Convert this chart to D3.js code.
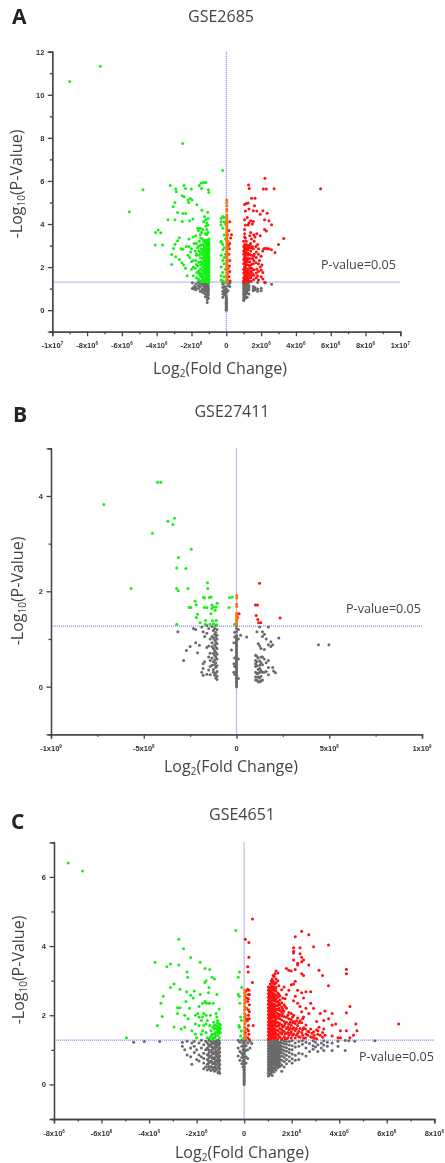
<!DOCTYPE html>
<html>
<head>
<meta charset="utf-8">
<script src="https://d3js.org/d3.v7.min.js"></script>
<style>
  html, body { margin: 0; padding: 0; background: #fff; }
  svg { display: block; filter: blur(0.4px); }
  .tick-label { font-family: "Liberation Sans", Arial, sans-serif; font-weight: bold; font-size: 7.5px; fill: #333; }
  .big { font-family: "Open Sans", sans-serif; fill: #444; }
</style>
</head>
<body>
<div id="chart"></div>
<script>
// every row is [x, y, y, y ...], x in the unit of the panel (1e6 or 1e8)

// ---- GSE2685
var aXTicks = [-10, -8, -6, -4, -2, 0, 2, 4, 6, 8, 10];
var aXLabels = [['-1x10', '7'], ['-8x10', '6'], ['-6x10', '6'], ['-4x10', '6'], ['-2x10', '6'], ['0', ''], ['2x10', '6'], ['4x10', '6'], ['6x10', '6'], ['8x10', '6'], ['1x10', '7']];
var aYTicks = [0, 2, 4, 6, 8, 10, 12];
var aGray = [
  [-1.95, 1.0, 1.27], [-1.85, .98, 1.1], [-1.75, .95, 1.05, 1.22], [-1.6, 1.0, 1.15, 1.3], [-1.5, .88, 1.1, 1.25],
  [-1.4, .85, .98, 1.2, 1.28], [-1.3, .8, .95, 1.1, 1.22], [-1.2, .62, .75, .88, 1.0, 1.08, 1.18, 1.26],
  [-1.1, .35, .5, .65, .72, .8, .9, 1.0, 1.1, 1.2, 1.3], [-1.03, .55, .7, .82, .92, 1.02, 1.12, 1.25],
  [-.2, .6, .75, .88, 1.05, 1.2, 1.3], [-.1, .7, .82, .95, 1.1, 1.28],
  [0, 0, .04, .08, .12, .16, .2, .24, .28, .32, .36, .4, .44, .48, .52, .56, .66, .8, .9, 1.0],
  [.1, .9, 1.15, 1.28], [.2, 1.1, 1.25],
  [1.0, .45, .5, .6, .7, .8, .9, 1.0, 1.1, 1.2, 1.28], [1.1, .55, .65, .75, .85, .95, 1.05, 1.15, 1.25],
  [1.2, .6, .8, .9, 1.0, 1.1, 1.2], [1.3, .75, .95, 1.05, 1.15, 1.28], [1.55, .9, 1.0, 1.1], [1.65, .95, 1.05],
  [1.8, .88, .98, 1.28], [2.0, .9, 1.02], [2.25, 1.27], [2.6, 1.2]
];
var aGreen = [
  [-9.0, 10.62], [-7.24, 11.32], [-2.51, 7.74], [-4.79, 5.59], [-5.57, 4.57], [-.21, 6.49],
  [-3.22, 5.79], [-2.43, 5.79], [-2.91, 5.63], [-2.87, 5.5], [-2.34, 5.65], [-2.01, 5.62], [-1.55, 5.79], [-1.44, 5.9],
  [-1.3, 5.93], [-1.17, 5.93], [-1.42, 5.65], [-1.03, 5.59], [-1.0, 5.46], [-2.53, 5.31], [-2.43, 5.26], [-2.07, 5.19],
  [-2.2, 5.11], [-1.97, 5.11], [-2.16, 5.0], [-1.69, 4.89], [-2.95, 5.0], [-3.05, 4.8], [-2.49, 4.49], [-2.34, 4.49],
  [-2.8, 4.54], [-1.4, 4.64], [-1.07, 4.55], [-3.35, 4.2], [-2.95, 4.2], [-2.53, 4.12], [-2.11, 4.15], [-1.92, 4.23],
  [-3.91, 3.72], [-4.06, 3.6], [-3.77, 3.59], [-4.08, 3.03], [-3.66, 3.03], [-2.7, 3.36], [-2.8, 3.22], [-2.95, 3.06],
  [-3.03, 2.86], [-3.14, 2.58], [-2.91, 2.48], [-3.14, 2.12], [-2.6, 2.85], [-2.5, 2.83], [-2.7, 2.35], [-2.55, 2.2],
  [-2.45, 2.1], [-2.35, 1.95], [-2.25, 1.6], [-2.3, 2.95], [-2.2, 2.55], [-2.1, 2.45], [-2.05, 2.7], [-2.0, 2.25],
  [-1.9, 3.4], [-1.85, 3.1], [-1.8, 2.75], [-1.8, 1.95], [-1.75, 2.3], [-1.75, 3.45], [-1.7, 1.75], [-1.65, 2.9],
  [-1.65, 2.05], [-1.65, 3.8], [-1.6, 1.45], [-1.6, 3.7], [-1.55, 2.55], [-1.55, 3.2], [-1.5, 3.8], [-1.5, 1.75],
  [-1.5, 3.5], [-1.45, 2.85], [-1.45, 2.25], [-1.45, 1.55], [-1.42, 3.6], [-1.4, 3.05], [-1.4, 1.4], [-1.35, 2.4],
  [-1.35, 3.75], [-1.35, 2.0], [-1.3, 4.1], [-1.3, 3.0], [-1.3, 1.6], [-1.25, 3.25], [-1.25, 2.65], [-1.25, 1.9],
  [-1.25, 4.35], [-1.2, 3.55], [-1.2, 2.3],
  [-1.18, 1.35, 1.5, 1.65, 1.8, 2.0, 2.15, 2.4, 2.6, 2.8, 3.0, 3.2, 3.9, 4.2],
  [-1.12, 1.32, 1.42, 1.55, 1.7, 1.85, 1.95, 2.1, 2.25, 2.35, 2.5, 2.65, 2.75, 2.9, 3.05, 3.15, 3.25, 3.5, 3.75, 4.05],
  [-1.05, 1.3, 1.38, 1.48, 1.6, 1.72, 1.82, 1.92, 2.02, 2.12, 2.22, 2.32, 2.42, 2.52, 2.62, 2.72, 2.82, 2.92, 3.02, 3.12, 3.22, 3.6, 3.95, 4.25],
  [-1.0, 1.34, 1.44, 1.56, 1.66, 1.76, 1.88, 1.98, 2.08, 2.18, 2.28, 2.38, 2.48, 2.58, 2.68, 2.78, 2.88, 2.98, 3.08, 3.18, 3.3],
  [-1.24, 1.33, 1.46, 1.72, 2.05, 2.2, 2.45, 2.75, 2.92, 3.12],
  [-1.3, 1.36, 1.78, 1.88, 2.12, 2.28, 2.52, 2.7, 2.85, 3.2],
  [-1.38, 1.32, 1.5, 1.68, 1.85, 2.15, 2.6, 2.78, 3.3],
  [-1.48, 1.34, 1.62, 1.92, 2.1, 2.42, 2.68, 3.0, 3.35],
  [-1.58, 1.38, 1.68, 1.82, 2.22, 2.75, 2.98],
  [-1.72, 1.5, 2.12, 2.55, 2.62, 3.1], [-1.9, 2.3, 2.0, 1.6], [-2.0, 2.85, 1.9], [-2.15, 2.95, 3.3],
  [-.3, 1.4, 1.6, 2.0, 2.55, 3.15, 3.2, 3.95, 4.1, 4.25], [-.2, 1.35, 1.75, 2.3, 2.8, 3.05, 3.8, 4.35],
  [-.12, 1.32, 1.55, 2.15, 2.45, 2.9, 3.5, 4.1, 4.3], [-.05, 1.3, 1.9, 2.6, 3.3, 4.0]
];
var aRed = [
  [5.42, 5.64], [2.22, 6.12], [2.13, 5.63], [2.3, 5.63], [2.75, 5.64], [1.28, 5.81], [1.32, 5.65], [1.45, 5.2], [1.65, 5.2],
  [1.15, 4.95], [1.25, 4.97], [1.05, 4.9], [1.62, 4.85], [1.3, 4.7], [1.1, 4.6], [1.55, 4.62], [1.75, 4.6], [2.1, 4.62],
  [2.35, 4.5], [1.95, 4.45], [1.2, 4.3], [1.05, 4.2], [1.4, 4.15], [1.55, 4.12], [1.3, 4.05], [1.5, 4.0], [2.2, 4.2],
  [2.45, 4.15], [2.6, 3.97], [1.1, 3.95], [1.25, 3.95], [2.2, 3.75], [2.3, 3.68], [1.05, 3.75], [1.4, 3.6], [1.75, 3.55],
  [1.95, 3.45], [3.3, 3.33], [3.0, 3.05], [2.8, 2.68], [2.6, 2.8], [2.15, 2.85], [2.25, 2.88], [2.35, 2.85], [2.45, 2.85],
  [.3, 3.5], [.25, 3.35], [.2, 3.1], [.18, 2.85], [.15, 2.6], [.2, 2.3], [.18, 2.05], [.2, 1.8], [.15, 1.55], [.22, 1.35],
  [.2, 4.1], [.15, 3.7], [.12, 3.0], [.1, 1.95],
  [1.6, 3.2], [1.7, 2.95], [1.8, 3.05], [1.85, 2.6], [1.9, 2.3], [1.95, 2.0], [2.0, 1.85], [2.05, 2.1], [2.1, 1.45], [2.2, 1.3],
  [1.65, 3.4], [1.6, 2.6], [1.7, 2.2], [1.75, 1.9], [1.8, 1.6], [1.85, 1.4], [1.55, 2.85], [1.55, 2.15], [1.5, 1.7],
  [1.5, 2.95], [1.5, 2.4], [1.45, 3.3], [1.45, 1.95], [1.4, 2.75], [1.4, 1.5], [1.4, 3.1], [1.35, 3.45], [1.35, 2.25],
  [1.35, 1.75], [1.3, 2.9], [1.3, 1.35], [1.25, 3.0], [1.25, 2.55], [1.25, 2.1], [1.2, 2.8], [1.2, 1.65], [1.15, 3.2],
  [1.15, 2.4], [1.15, 1.95], [1.1, 3.35], [1.1, 2.6], [1.1, 1.5], [1.1, 2.2],
  [1.05, 1.32, 1.42, 1.6, 1.8, 2.0, 2.3, 2.45, 2.7, 2.85, 3.05, 3.4, 3.55],
  [1.0, 1.3, 1.38, 1.5, 1.72, 1.9, 2.15, 2.35, 2.6, 2.75, 2.95, 3.2],
  [1.08, 1.36, 1.7, 1.85, 2.05, 2.28, 2.5, 2.78, 2.95],
  [1.16, 1.32, 1.44, 1.58, 1.78, 2.12, 2.3, 2.68, 2.9, 3.05],
  [1.24, 1.4, 1.52, 1.72, 1.85, 2.25, 2.4, 2.65, 2.82],
  [1.34, 1.5, 1.62, 1.95, 2.05, 2.4, 2.6, 3.0],
  [1.44, 1.34, 1.6, 1.82, 2.12, 2.55, 2.9],
  [1.58, 1.42, 1.62, 1.88, 2.3, 2.5, 3.5],
  [1.72, 1.5, 1.72, 2.45, 2.7], [1.85, 1.8, 2.15, 2.85], [2.0, 2.5, 1.55], [2.1, 2.75, 1.75]
];
var aOrange = [
  [.03, 1.32, 1.42, 1.52, 1.62, 1.72, 1.82, 1.92, 2.02, 2.12, 2.22, 2.32, 2.42, 2.52, 2.62, 2.72, 2.82, 2.92, 3.02, 3.12, 3.22, 3.32, 3.42, 3.52, 3.62, 3.72, 3.82, 3.92, 4.02, 4.12, 4.22, 4.32, 4.42, 4.6, 4.7, 4.85, 5.0, 5.12],
  [.08, 1.4, 1.7, 2.0, 2.3, 2.6, 2.9, 3.2, 3.5]
];

// ---- GSE27411
var bXTicks = [-10, -5, 0, 5, 10];
var bXLabels = [['-1x10', '9'], ['-5x10', '8'], ['0', ''], ['5x10', '8'], ['1x10', '9']];
var bYTicks = [0, 2, 4];
var bGray = [
  [-3.16, 1.15], [-2.85, .55], [-2.7, .76], [-2.5, .84], [-2.32, 1.22], [-2.2, 1.2], [-2.2, .92], [-2.1, .71], [-2.0, .87], [-1.87, 1.25, .3],
  [-1.8, 1.15, .48, .38, .24], [-1.72, 1.05, .52], [-1.6, 1.28, 1.12, .82, .26], [-1.5, 1.22, .85, .62, .35], [-1.42, 1.0, .7, .55, .25, .42],
  [-1.32, 1.26, 1.05, .92, .84, .6, .45], [-1.25, 1.18, 1.02, .8, .7, .52, .36, .3],
  [-1.18, 1.22, 1.1, .98, .88, .76, .66, .56, .46, .24], [-1.12, 1.28, 1.14, 1.04, .94, .83, .72, .62, .5, .4, .28, .18],
  [-1.05, 1.2, 1.08, 1.0, .9, .8, .68, .58, .44, .32, .22, .15],
  [-.27, .77], [-.14, .92, .48, .3], [-.1, 1.14, 1.04, .6, .42, .26],
  [0, 0, .03, .06, .09, .12, .15, .18, .21, .24, .27, .3, .33, .36, .39, .42, .45, .48, .51, .54, .57, .6, .63, .66, .69, .72, .75, .78, .81, .84, .87, .9, .93, .96, .99, 1.02, 1.05, 1.08, 1.15, 1.22, 1.28],
  [.1, 1.2, 1.0, .58, .17], [.22, 1.08], [.55, 1.04],
  [1.03, .66, .55, .48, .42, .3, .2, .14], [1.1, 1.15, .63, .52, .44, .27, .14], [1.17, .9, .6, .36, .28, .2, .1],
  [1.25, 1.25, .85, .54, .45, .38, .3, .18, .1], [1.32, .8, .62, .5, .34, .22, .12], [1.4, 1.15, 1.05, .62, .46, .3, .14],
  [1.5, 1.1, .78, .58, .3], [1.6, 1.0, .5, .32], [1.72, 1.25, .88, .4, .55, .25], [1.85, .94, .84], [1.95, .88, .4],
  [2.0, .33], [2.1, .29], [2.28, 1.02], [4.42, .88], [4.98, .88]
];
var bGreen = [
  [-7.15, 3.82], [-4.26, 4.29], [-4.08, 4.29], [-3.7, 3.47], [-3.34, 3.53], [-3.43, 3.4], [-4.53, 3.22], [-2.44, 2.88],
  [-3.13, 2.71], [-3.22, 2.49], [-2.73, 2.48], [-5.68, 2.06], [-3.23, 2.06], [-3.14, 2.01], [-2.61, 2.06], [-1.56, 2.18],
  [-1.55, 2.06], [-1.78, 1.87], [-1.72, 1.86], [-1.46, 1.87], [-1.37, 1.88], [-2.23, 1.79], [-2.17, 1.72], [-2.55, 1.66],
  [-2.46, 1.66], [-1.74, 1.66], [-1.6, 1.66], [-1.33, 1.71], [-1.04, 1.75], [-1.24, 1.67], [-1.1, 1.67], [-1.33, 1.64],
  [-1.15, 1.6], [-1.38, 1.53], [-2.1, 1.52], [-2.17, 1.45], [-1.67, 1.39], [-1.96, 1.34], [-3.22, 1.31], [-1.69, 1.31],
  [-1.42, 1.31], [-1.29, 1.38], [-1.1, 1.39], [-1.06, 1.3], [-1.24, 1.32], [-.38, 1.87], [-.23, 1.88], [-.4, 1.66], [-.1, 1.31]
];
var bRed = [[1.24, 2.17], [1.02, 1.71], [1.13, 1.71], [1.06, 1.49], [1.15, 1.41], [1.19, 1.34], [1.31, 1.34], [2.35, 1.44], [.14, 1.53], [.05, 1.45]];
var bOrange = [[.01, 1.91, 1.86, 1.73, 1.68, 1.54, 1.5, 1.46, 1.42, 1.38, 1.34, 1.3]];

// ---- GSE4651
var cXTicks = [-8, -6, -4, -2, 0, 2, 4, 6, 8];
var cXLabels = [['-8x10', '6'], ['-6x10', '6'], ['-4x10', '6'], ['-2x10', '6'], ['0', ''], ['2x10', '6'], ['4x10', '6'], ['6x10', '6'], ['8x10', '6']];
var cYTicks = [0, 2, 4, 6];
var cGray = [
  [-4.65, 1.22], [-4.2, 1.24], [-3.55, 1.24], [-2.6, 1.1, 1.22], [-2.5, 1.0], [-2.4, .85, 1.25], [-2.25, .8, 1.05], [-2.2, .58, 1.2],
  [-2.1, .92, 1.1, 1.25], [-2.0, .72, 1.0], [-1.9, .68, .85, 1.2], [-1.8, .8, 1.05, 1.28], [-1.7, .45, .62, .75, .9, 1.15], [-1.62, .5, 1.0, 1.25],
  [-1.55, .42, .58, .72, .86, 1.05, 1.2], [-1.48, .46, .62, .78, .92, 1.1, 1.28], [-1.4, .4, .52, .68, .82, .98, 1.14, 1.24],
  [-1.32, .44, .6, .74, .88, 1.02, 1.18, 1.28], [-1.25, .38, .5, .64, .78, .94, 1.08, 1.22], [-1.18, .42, .56, .7, .84, .96, 1.12, 1.26],
  [-1.1, .34, .5, .62, .74, .88, 1.0, 1.16, 1.28], [-1.03, .32, .46, .58, .7, .82, .94, 1.06, 1.2],
  [-1.14, .46, .66, .8, .92, 1.08, 1.2], [-1.06, .38, .54, .66, .78, .9, 1.02, 1.14, 1.26], [-1.22, .48, .6, .72, .9, 1.04, 1.16],
  [-1.36, .5, .64, .78, .92, 1.08, 1.2], [-1.5, .52, .68, .84, 1.0, 1.16],
  [-.25, .82, 1.05, 1.28], [-.18, .7, .95, 1.22], [-.1, .6, .78, .9, 1.1, 1.28], [-.05, .5, .68, .85, 1.0, 1.2],
  [0, 0, .04, .08, .12, .16, .2, .24, .28, .32, .36, .4, .44, .48, .52, .56, .6, .64, .7, .75, .8, .85, .9, .95, 1.0, 1.05, 1.1, 1.15, 1.2, 1.25],
  [.08, .62, .8, .98, 1.12, 1.27], [.15, .75, 1.0, 1.2], [.25, 1.05, 1.25], [.32, 1.18],
  [1.02, .24, .32, .4, .48, .56, .64, .72, .8, .88, .96, 1.04, 1.12, 1.2, 1.28], [1.1, .3, .38, .46, .54, .62, .7, .78, .86, .94, 1.02, 1.1, 1.18, 1.26],
  [1.18, .26, .4, .5, .58, .66, .74, .82, .9, .98, 1.06, 1.14, 1.22], [1.26, .36, .46, .56, .64, .72, .8, .88, .96, 1.04, 1.12, 1.2, 1.28],
  [1.34, .42, .52, .6, .7, .78, .86, .94, 1.02, 1.1, 1.18, 1.26], [1.42, .48, .58, .68, .76, .84, .92, 1.0, 1.08, 1.16, 1.24],
  [1.06, .28, .44, .52, .6, .68, .76, .84, .92, 1.0, 1.08, 1.16, 1.24], [1.14, .34, .42, .54, .66, .74, .82, .9, .98, 1.06, 1.14, 1.22], [1.22, .38, .46, .62, .7, .78, .86, .94, 1.02, 1.1, 1.18, 1.26],
  [1.3, .48, .6, .68, .76, .84, .92, 1.0, 1.08, 1.16, 1.24], [1.38, .54, .64, .74, .82, .9, .98, 1.06, 1.14, 1.22, 1.28], [1.46, .56, .66, .8, .88, .96, 1.04, 1.12, 1.2],
  [1.5, .52, .62, .72, .8, .9, .98, 1.06, 1.14, 1.22], [1.58, .38, .56, .7, .82, .92, 1.02, 1.1, 1.2, 1.28], [1.68, .5, .66, .78, .88, .98, 1.08, 1.18, 1.26],
  [1.78, .6, .72, .84, .96, 1.06, 1.16, 1.24], [1.9, .68, .8, .92, 1.02, 1.14, 1.24], [2.02, .62, .74, .88, 1.0, 1.12, 1.26], [2.15, .7, .84, 1.08, 1.2],
  [2.3, .72, .9, 1.1, 1.24], [2.45, .88, 1.16, 1.26], [2.6, .82, 1.05, 1.22], [2.75, .95, 1.18], [2.9, 1.02, 1.12, 1.26], [3.0, 1.08, 1.22], [3.1, .95, 1.15],
  [3.25, 1.05, 1.2], [3.35, .98, 1.14, 1.26], [3.5, 1.1, 1.22], [3.7, .98, 1.2], [3.95, 1.1, 1.25], [4.25, .98, 1.27], [4.4, 1.26], [4.65, 1.25], [5.5, 1.26]
];
var cGreen = [
  [-7.4, 6.4], [-6.8, 6.17], [-4.95, 1.35], [-3.75, 3.53], [-3.65, 1.7], [-3.5, 2.35], [-3.45, 1.96], [-3.4, 2.55], [-3.25, 3.4], [-3.1, 3.48], [-3.1, 2.8],
  [-2.95, 2.9], [-2.95, 1.66], [-2.8, 2.22], [-2.8, 2.05], [-2.75, 4.2], [-2.75, 3.45], [-2.7, 2.75], [-2.7, 2.22], [-2.65, 1.6], [-2.55, 3.92], [-2.5, 1.65],
  [-2.5, 2.0], [-2.45, 2.4], [-2.42, 2.68], [-2.4, 3.25], [-2.38, 3.1], [-2.35, 1.9], [-2.3, 2.2], [-2.25, 2.58], [-2.25, 3.67], [-2.2, 1.55], [-2.15, 2.5],
  [-2.1, 2.7], [-2.05, 1.75], [-2.0, 1.35], [-1.95, 2.05], [-1.9, 2.25], [-1.85, 3.53], [-1.85, 2.6], [-1.8, 1.85], [-1.8, 1.45], [-1.75, 2.35], [-1.7, 2.05],
  [-1.7, 1.7], [-1.65, 2.95], [-1.65, 2.4], [-1.65, 3.35], [-1.6, 1.5], [-1.6, 3.0], [-1.55, 1.85], [-1.55, 1.35], [-1.5, 2.65], [-1.5, 2.35], [-1.48, 2.8],
  [-1.45, 3.32], [-1.42, 2.0], [-1.4, 1.55], [-1.38, 1.4], [-1.35, 3.1], [-1.32, 1.65], [-1.3, 2.35], [-1.28, 1.8], [-1.25, 3.05], [-1.22, 1.35], [-1.2, 1.5],
  [-1.18, 2.05], [-1.15, 2.6], [-1.15, 1.95], [-1.12, 1.42, 1.56, 1.68, 1.78, 1.85], [-1.05, 2.18, 1.75, 1.65, 1.55, 1.48, 1.35], [-1.0, 1.62, 1.72, 1.5], [-1.25, 1.6, 1.7, 1.45], [-1.3, 1.35],
  [-1.9, 1.95, 1.7], [-2.05, 2.0, 1.45], [-1.75, 1.55, 1.95], [-1.6, 2.0, 1.75, 2.35], [-1.45, 2.35, 1.7, 1.35], [-1.2, 1.62, 1.72, 1.4], [-1.1, 1.5, 1.62], [-1.35, 1.45, 1.3],
  [-.35, 4.45], [-.2, 3.25], [-.25, 3.1], [-.1, 2.8], [-.25, 2.6], [-.2, 2.55], [-.18, 2.35], [-.15, 1.95], [-.12, 1.85], [-.22, 1.7], [-.2, 1.65], [-.12, 1.55], [-.15, 1.4], [-.05, 1.32]
];
var cRed = [
  [6.5, 1.75], [.35, 4.78], [.05, 4.2], [.2, 4.1], [.2, 3.68], [.15, 3.4], [.17, 3.25], [.35, 2.95], [.15, 2.75], [.18, 2.6], [.15, 2.4], [.1, 2.2], [.18, 2.0], [.14, 1.85],
  [.38, 1.7], [.12, 1.6], [.2, 1.45], [.15, 1.35], [.22, 2.3], [.1, 2.5], [.08, 2.7], [.1, 1.9], [.05, 1.5], [.2, 2.72],
  [.18, 1.55, 1.7, 2.15, 2.48], [.22, 1.3, 1.9, 2.1, 2.6],
  [1.02, 1.32, 1.42, 1.52, 1.62, 1.72, 1.82, 1.92, 2.02, 2.12, 2.22, 2.32, 2.42, 2.52, 2.62, 2.72, 2.82],
  [1.1, 1.3, 1.4, 1.5, 1.6, 1.7, 1.8, 1.9, 2.0, 2.1, 2.2, 2.3, 2.4, 2.5, 2.6, 2.7, 2.8, 2.9],
  [1.18, 1.35, 1.45, 1.55, 1.65, 1.75, 1.85, 1.95, 2.05, 2.15, 2.25, 2.35, 2.45, 2.55, 2.65, 2.75, 2.85, 2.95, 3.05],
  [1.26, 1.32, 1.42, 1.52, 1.62, 1.72, 1.82, 1.92, 2.02, 2.12, 2.22, 2.32, 2.42, 2.52, 2.62, 2.72, 2.82, 2.92, 3.12],
  [1.34, 1.38, 1.48, 1.58, 1.68, 1.78, 1.88, 1.98, 2.08, 2.18, 2.28, 2.38, 2.48, 2.58, 2.7, 2.8, 2.95, 3.05, 3.28],
  [1.06, 1.37, 1.47, 1.57, 1.67, 1.77, 1.87, 1.97, 2.07, 2.17, 2.27, 2.37, 2.47, 2.57, 2.67, 2.77],
  [1.14, 1.33, 1.43, 1.58, 1.68, 1.78, 1.93, 2.03, 2.13, 2.28, 2.38, 2.53, 2.68, 2.83, 3.0],
  [1.22, 1.38, 1.48, 1.6, 1.7, 1.8, 1.98, 2.08, 2.2, 2.3, 2.48, 2.6, 2.8, 2.98, 3.15],
  [1.3, 1.34, 1.44, 1.55, 1.75, 1.85, 1.95, 2.15, 2.25, 2.45, 2.55, 2.75, 2.9, 3.2],
  [1.42, 1.32, 1.44, 1.56, 1.68, 1.8, 1.92, 2.04, 2.16, 2.28, 2.4, 2.52, 2.64, 3.0, 3.22],
  [1.5, 1.36, 1.5, 1.62, 1.76, 1.9, 2.02, 2.14, 2.3, 2.44, 2.56],
  [1.46, 1.4, 1.72, 1.98, 2.2, 2.35, 2.6, 2.85],
  [1.58, 1.32, 1.46, 1.58, 1.72, 1.86, 1.98, 2.1, 2.24, 2.36, 2.74], [1.68, 1.38, 1.54, 1.68, 1.82, 1.96, 2.12, 2.3, 2.82],
  [1.62, 1.52, 1.66, 2.05, 2.18, 2.5], [1.72, 1.32, 1.46, 1.75, 2.25, 2.48],
  [1.78, 1.32, 1.48, 1.62, 1.8, 1.94, 2.2, 2.6, 3.35], [1.88, 1.42, 1.58, 1.74, 1.9, 2.08, 2.72, 3.3], [1.98, 1.34, 1.52, 1.7, 1.88, 2.05, 2.88, 3.28],
  [1.84, 1.34, 1.5, 1.66, 2.0], [1.94, 1.48, 1.62, 1.8], [2.04, 1.42, 1.6, 1.78, 1.95], [2.2, 1.42, 1.62, 1.84], [2.3, 1.38, 1.54, 1.78], [2.46, 1.42, 1.58, 1.9],
  [2.58, 1.34, 1.6], [2.68, 1.42, 1.54], [2.85, 1.48, 1.36], [2.95, 1.34, 1.42], [3.1, 1.45, 1.55], [3.3, 1.36, 1.5],
  [2.08, 1.46, 1.64, 1.82, 2.0, 2.42, 2.9, 3.6, 3.95, 3.85, 3.8], [2.15, 1.34, 1.56, 1.76, 2.55, 2.98, 3.32, 4.27], [2.25, 1.48, 1.7, 1.92, 2.35, 2.72, 3.45, 3.5],
  [2.35, 1.36, 1.62, 1.84, 2.25, 3.78, 3.95], [2.42, 1.5, 1.78, 2.1, 2.65, 3.2, 3.55, 3.68, 4.43], [2.5, 1.34, 1.64, 1.95, 2.5, 3.15, 3.6],
  [2.6, 1.46, 1.72, 2.2, 2.68], [2.72, 1.52, 2.05, 3.45, 4.33], [2.8, 1.38, 1.6, 2.35, 2.68], [2.92, 1.52, 2.2, 3.98], [3.05, 1.32, 1.58, 1.82], [3.15, 1.65, 3.3],
  [3.2, 1.42, 2.05], [3.3, 3.15], [3.35, 1.6, 1.85], [3.4, 1.42, 2.12], [3.55, 1.9, 2.85, 4.03], [3.7, 1.4, 1.72, 2.05], [3.85, 1.75], [3.95, 1.35],
  [4.05, 1.55, 1.35], [4.3, 3.33, 3.2], [4.3, 1.55, 2.07], [4.45, 1.35, 2.25], [4.6, 1.42], [4.7, 1.75], [4.75, 1.55]
];
var cOrange = [[.02, 1.35, 1.45, 1.55, 1.65, 1.75, 1.85, 1.95, 2.05, 2.15, 2.25, 2.35, 2.45, 2.55, 2.65, 2.72], [.06, 1.4, 1.6, 1.8, 2.0, 2.2, 2.4, 2.6]];

var width = 445, height = 1163;
var svg = d3.select('#chart').append('svg').attr('width', width).attr('height', height);

// turn rows [x, y, y ...] into points
function points(rows) {
  return d3.merge(rows.map(r => r.slice(1).map(y => ({ x: r[0], y: y }))));
}

function drawPanel(p) {
  var xScale = d3.scaleLinear().domain(p.xDomain).range(p.xRange);
  var yScale = d3.scaleLinear().domain(p.yDomain).range(p.yRange);
  var g = svg.append('g');

  // dotted guide lines go under the points
  var guide = g.append('g').attr('stroke', '#8f8ff5').attr('stroke-width', 1.2).attr('stroke-dasharray', '1.2,0.8');
  guide.append('line')
    .attr('x1', xScale(0)).attr('x2', xScale(0))
    .attr('y1', p.yRange[1]).attr('y2', p.yRange[0]);
  guide.append('line')
    .attr('x1', p.xRange[0]).attr('x2', p.xRange[1])
    .attr('y1', yScale(p.cut)).attr('y2', yScale(p.cut));

  // scatter, gray first so the colours stay on top
  [[p.gray, '#6a6a6a'], [p.green, '#14f014'], [p.red, '#ff1010'], [p.orange, '#ff7010']].forEach(function(s) {
    g.append('g').selectAll('circle')
      .data(points(s[0]))
      .enter().append('circle')
      .attr('cx', d => xScale(d.x))
      .attr('cy', d => yScale(d.y))
      .attr('r', 1.5)
      .attr('fill', s[1]);
  });

  // minor ticks first, then the major ones with labels
  var xMinor = d3.axisBottom(xScale).tickValues(p.xMinor).tickSize(2.5).tickFormat('');
  var yMinor = d3.axisLeft(yScale).tickValues(p.yMinor).tickSize(2.5).tickFormat('');
  var xAxis = d3.axisBottom(xScale).tickValues(p.xTicks).tickSize(4.5).tickFormat('');
  var yAxis = d3.axisLeft(yScale).tickValues(p.yTicks).tickSize(4.5).tickFormat(d3.format('d'));

  [[xMinor, 'x'], [xAxis, 'x'], [yMinor, 'y'], [yAxis, 'y']].forEach(function(a) {
    var ax = g.append('g')
      .attr('transform', a[1] == 'x' ? 'translate(0,' + p.yRange[0] + ')' : 'translate(' + p.xRange[0] + ',0)')
      .call(a[0]);
    ax.selectAll('path,line').attr('stroke', '#444').attr('stroke-width', 1.3);
    ax.selectAll('text').attr('class', 'tick-label').attr('x', -8);
  });

  // x labels need the raised exponent
  var lab = g.append('g').selectAll('text')
    .data(p.xTicks)
    .enter().append('text')
    .attr('class', 'tick-label')
    .attr('text-anchor', 'middle')
    .attr('x', d => xScale(d))
    .attr('y', p.yRange[0] + 16.5);
  lab.append('tspan').text((d, i) => p.xLabels[i][0]);
  lab.append('tspan').attr('dy', -3).style('font-size', '4.5px').text((d, i) => p.xLabels[i][1]);

  g.append('text').attr('class', 'big')
    .attr('x', p.letter[0]).attr('y', p.letter[1])
    .style('font-size', '21px').style('font-weight', 'bold').style('fill', '#222')
    .text(p.letter[2]);

  g.append('text').attr('class', 'big')
    .attr('x', p.title[0]).attr('y', p.title[1]).attr('text-anchor', 'middle')
    .style('font-size', '16px')
    .text(p.title[2]);

  g.append('text').attr('class', 'big')
    .attr('x', p.pLabel[0]).attr('y', p.pLabel[1])
    .style('font-size', '12.6px')
    .text('P-value=0.05');

  var xt = g.append('text').attr('class', 'big')
    .attr('x', p.xTitle[0]).attr('y', p.xTitle[1]).attr('text-anchor', 'middle')
    .style('font-size', '16px');
  xt.append('tspan').text('Log');
  xt.append('tspan').attr('dy', 3).style('font-size', '10px').text('2');
  xt.append('tspan').attr('dy', -3).text('(Fold Change)');

  var yt = g.append('text').attr('class', 'big')
    .attr('transform', 'translate(' + p.yTitle[0] + ',' + p.yTitle[1] + ') rotate(-90)')
    .attr('text-anchor', 'middle')
    .style('font-size', '16px');
  yt.append('tspan').text('-Log');
  yt.append('tspan').attr('dy', 3).style('font-size', '10px').text('10');
  yt.append('tspan').attr('dy', -3).text('(P-Value)');
}

drawPanel({
  gray: aGray, green: aGreen, red: aRed, orange: aOrange,
  xDomain: [-10, 10], yDomain: [-1, 12], xRange: [52.3, 400.3], yRange: [331.7, 51.7], cut: 1.3,
  xTicks: aXTicks, xLabels: aXLabels, yTicks: aYTicks,
  xMinor: [-9, -7, -5, -3, -1, 1, 3, 5, 7, 9], yMinor: [-1, 1, 3, 5, 7, 9, 11],
  letter: [12, 24, 'A'], title: [221, 22, 'GSE2685'], pLabel: [321, 269], xTitle: [220, 374], yTitle: [22, 184]
});
drawPanel({
  gray: bGray, green: bGreen, red: bRed, orange: bOrange,
  xDomain: [-10, 10], yDomain: [-1, 5], xRange: [51, 422], yRange: [734.3, 448.3], cut: 1.27,
  xTicks: bXTicks, xLabels: bXLabels, yTicks: bYTicks,
  xMinor: [-7.5, -2.5, 2.5, 7.5], yMinor: [-1, 1, 3, 5],
  letter: [13, 422, 'B'], title: [232, 417, 'GSE27411'], pLabel: [346, 613], xTitle: [231, 772], yTitle: [23, 591]
});
drawPanel({
  gray: cGray, green: cGreen, red: cRed, orange: cOrange,
  xDomain: [-8, 8], yDomain: [-1, 7], xRange: [54, 434.3], yRange: [1119, 842.3], cut: 1.28,
  xTicks: cXTicks, xLabels: cXLabels, yTicks: cYTicks,
  xMinor: [-7, -5, -3, -1, 1, 3, 5, 7], yMinor: [-1, 1, 3, 5, 7],
  letter: [11, 829, 'C'], title: [242, 820, 'GSE4651'], pLabel: [359, 1061], xTitle: [242, 1158], yTitle: [24, 970]
});
</script>
</body>
</html>
